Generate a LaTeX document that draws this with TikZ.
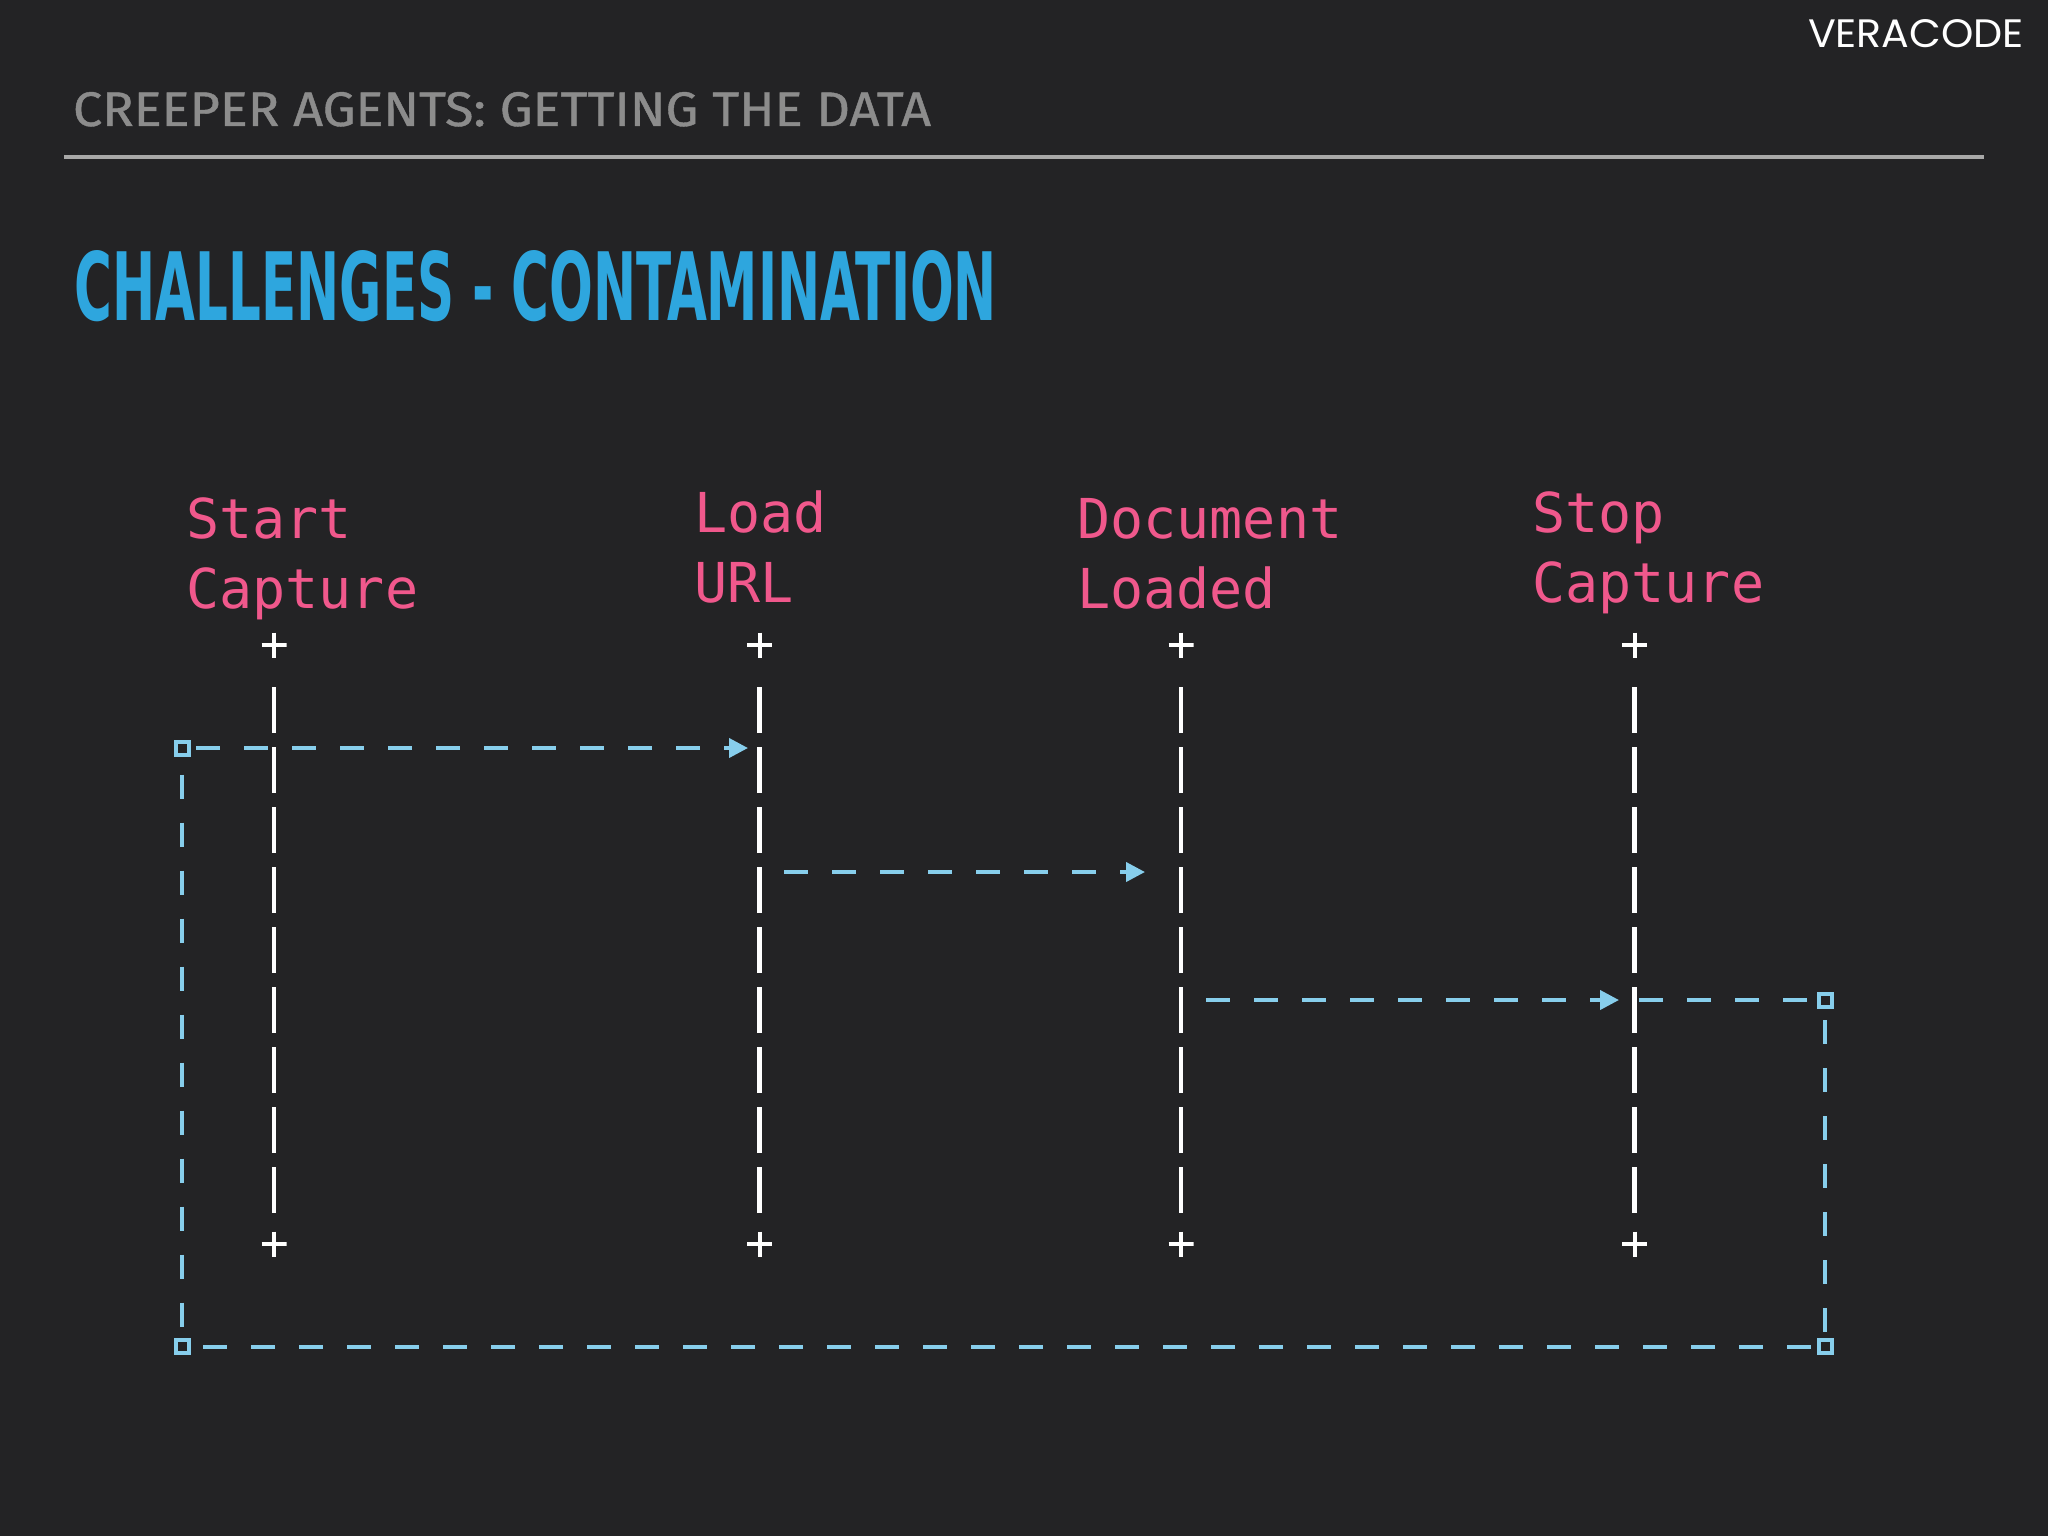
\documentclass[tikz,border=0pt]{standalone}
\usepackage{fontspec}
\usepackage{graphicx}
\usetikzlibrary{arrows.meta}
\newfontfamily\monofont{DejaVu Sans Mono}
\newfontfamily\titlefont{DejaVu Sans Condensed}
\newfontfamily\subfont{Fira Sans}[FakeBold=0.8]
\newfontfamily\logofont{Poppins}
\definecolor{bg}{RGB}{35,35,37}
\definecolor{pinklbl}{RGB}{240,88,140}
\definecolor{lblue}{RGB}{135,206,236}
\definecolor{tblue}{RGB}{46,166,222}
\definecolor{subgray}{RGB}{140,140,140}
\definecolor{rulegray}{RGB}{168,168,168}
\begin{document}
\begin{tikzpicture}[x=0.5pt,y=-0.5pt,
  evlabel/.style={text=pinklbl, font=\monofont\fontsize{27.5}{35}\selectfont, align=left, anchor=base west, inner sep=0pt},
  plusmark/.style={minimum size=12.5pt, inner sep=0pt, outer sep=0pt,
    path picture={\draw[white,line width=2pt] (path picture bounding box.north) -- (path picture bounding box.south) (path picture bounding box.west) -- (path picture bounding box.east);}},
  lifeline/.style={draw=white, line width=2.2pt, dash pattern=on 23pt off 7pt, shorten <=14.75pt, shorten >=9.25pt},
  corner/.style={draw=lblue, fill=bg, line width=2pt, minimum size=6.5pt, inner sep=0pt, outer sep=1pt},
  flow/.style={draw=lblue, line width=2pt, dash pattern=on 12pt off 12pt},
  msg/.style={flow, -{Triangle[length=9.5pt,width=9.5pt]}},
  plain/.style={anchor=base west, inner sep=0pt, outer sep=0pt}
]
\fill[bg] (0,0) rectangle (2048,1536);
\useasboundingbox (0,0) rectangle (2048,1536);

% header
\node[plain, text=white] (logo) at (1808,47.7) {\resizebox{108pt}{14pt}{\logofont VERACODE}};
\node[plain, text=subgray] (sub) at (73,126) {\resizebox{429pt}{17pt}{\subfont CREEPER AGENTS: GETTING THE DATA}};
\coordinate (ruleL) at (64,156.5);
\coordinate (ruleR) at (1984,156.5);
\draw[rulegray, line width=2pt] (ruleL) -- (ruleR);
\node[plain, text=tblue] (title) at (75,320.7) {\resizebox{461pt}{35pt}{\titlefont\bfseries CHALLENGES - CONTAMINATION}};

% event labels (anchor = baseline of last line)
\node[evlabel] (lblStart) at (186,608) {Start\\Capture};
\node[evlabel] (lblLoad) at (694,602) {Load\\URL};
\node[evlabel] (lblDoc) at (1077,608) {Document\\Loaded};
\node[evlabel] (lblStop) at (1532,602) {Stop\\Capture};

% lifelines
\foreach \i/\x in {1/274,2/759.5,3/1181,4/1634.5}{
  \node[plusmark] (tp\i) at (\x,645) {};
  \node[plusmark] (bp\i) at (\x,1244) {};
  \draw[lifeline] (tp\i.south) -- (bp\i.north);
}

% corner squares
\node[corner] (sqTL) at (182,748) {};
\node[corner] (sqBL) at (182,1346.5) {};
\node[corner] (sqBR) at (1825,1346.5) {};
\node[corner] (sqTR) at (1825,1000) {};

% message endpoints
\coordinate (a1e) at (748,748);
\coordinate (a2s) at (784,872);
\coordinate (a2e) at (1145,872);
\coordinate (a3s) at (1206,1000);
\coordinate (a3e) at (1619,1000);
\coordinate (c4) at (1639,1000);

% flows
\draw[msg, shorten <=2.75pt] (sqTL.east) -- (a1e);
\draw[msg] (a2s) -- (a2e);
\draw[msg] (a3s) -- (a3e);
\draw[flow] (c4) -- (sqTR.west);
\draw[flow, shorten <=9pt] (sqTL.south) -- (sqBL.north);
\draw[flow, shorten <=6.25pt] (sqBL.east) -- (sqBR.west);
\draw[flow, shorten <=5.75pt] (sqTR.south) -- (sqBR.north);

% redraw squares on top
\node[corner] at (sqTL) {};
\node[corner] at (sqBL) {};
\node[corner] at (sqBR) {};
\node[corner] at (sqTR) {};
\end{tikzpicture}
\end{document}
